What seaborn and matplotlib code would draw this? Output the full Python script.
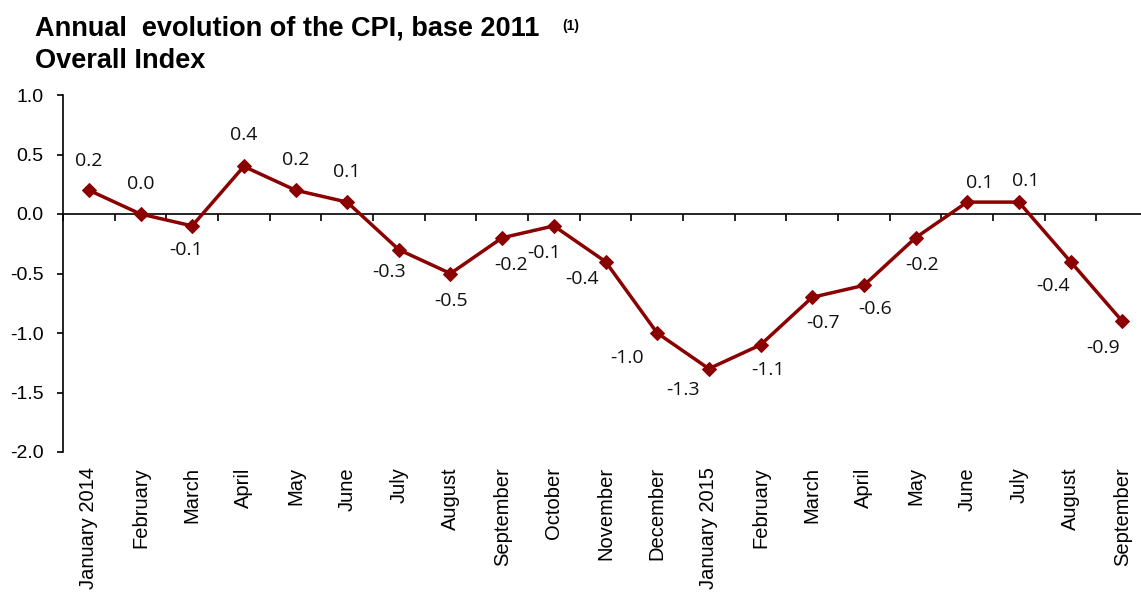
import matplotlib
matplotlib.use("Agg")
import matplotlib.pyplot as plt
import seaborn as sns
import pandas as pd

# Datos del grafico: variacion anual del IPC (indice general)
meses = ["January 2014", "February", "March", "April", "May", "June", "July",
         "August", "September", "October", "November", "December",
         "January 2015", "February", "March", "April", "May", "June", "July",
         "August", "September"]
ipc = [0.2, 0.0, -0.1, 0.4, 0.2, 0.1, -0.3, -0.5, -0.2, -0.1, -0.4, -1.0,
       -1.3, -1.1, -0.7, -0.6, -0.2, 0.1, 0.1, -0.4, -0.9]
etiquetas_y = [-2.0, -1.5, -1.0, -0.5, 0.0, 0.5, 1.0]

# desplazamiento de cada etiqueta respecto al punto (pixeles)
desp_x = [0, 0, -6, 0, 0, 0, -10, 1, 9, -10, -23, -30, -26, 8, 11, 11, 7, 13, 7, -17, -19]
desp_y = [29, 30, -24, 31, 30, 30, -22, -27, -27, -27, -17, -25, -21, -25, -26, -24, -27, 19, 21, -24, -27]

sns.set_style("white")
plt.rcParams['font.family'] = ['Liberation Sans', 'DejaVu Sans']
plt.rcParams['text.color'] = 'black'
plt.rcParams['xtick.color'] = 'black'
plt.rcParams['ytick.color'] = 'black'

df = pd.DataFrame({'pos': range(len(meses)), 'mes': meses, 'ipc': ipc})
rojo = '#8B0000'

fig = plt.figure(figsize=(11.41, 5.92), dpi=100)
ax = fig.add_axes([63 / 1141, 140 / 592, 1085 / 1141, 357 / 592])

sns.lineplot(data=df, x='pos', y='ipc', color=rojo, marker='D', markersize=7.5,
             markeredgecolor=rojo, linewidth=2.5, ax=ax, zorder=3)

# etiquetas de valores
for i, v in enumerate(ipc):
    ax.annotate(f"{v:.1f}", xy=(i, v), xytext=(desp_x[i], desp_y[i]),
                textcoords='offset pixels', ha='center', va='center',
                fontsize=14, family=['Open Sans', 'DejaVu Sans'], color='#111111')

ax.set_xlim(-0.5, len(meses) - 0.5)
ax.set_ylim(-2.0, 1.0)
ax.set_yticks(etiquetas_y)
ax.set_yticklabels([f"{t:.1f}" for t in etiquetas_y])
ax.set_xticks(range(len(meses)))
ax.set_xticklabels(meses, rotation=90)
ax.set_xlabel("")
ax.set_ylabel("")

for s in ['top', 'right', 'bottom']:
    ax.spines[s].set_visible(False)
ax.spines['left'].set_color('black')
ax.spines['left'].set_linewidth(1.2)
ax.tick_params(axis='y', length=4, width=1.2, colors='black', pad=10, labelsize=14, direction='out', left=True)
ax.tick_params(axis='x', length=0, pad=11, labelsize=14.5, colors='black')

# eje horizontal en cero con marcas entre categorias
eje0 = ax.secondary_xaxis((0 - (-2.0)) / 3.0)
eje0.set_xticks([i - 0.5 for i in range(len(meses) + 1)], labels=[""] * (len(meses) + 1))
eje0.tick_params(direction='in', length=5, width=1.2, color='black')
eje0.spines['top'].set_linewidth(1.2)
eje0.spines['top'].set_color('black')

fig.text(35 / 1141, 1 - 36 / 592, "Annual  evolution of the CPI, base 2011",
         fontsize=19.5, fontweight='bold', va='baseline', ha='left', color='black')
fig.text(562 / 1141, 1 - 30 / 592, "(1)", fontsize=10, fontweight='bold', va='baseline', ha='left', color='black')
fig.text(35 / 1141, 1 - 68 / 592, "Overall Index",
         fontsize=19.5, fontweight='bold', va='baseline', ha='left', color='black')

fig.savefig("out.png", dpi=100)
